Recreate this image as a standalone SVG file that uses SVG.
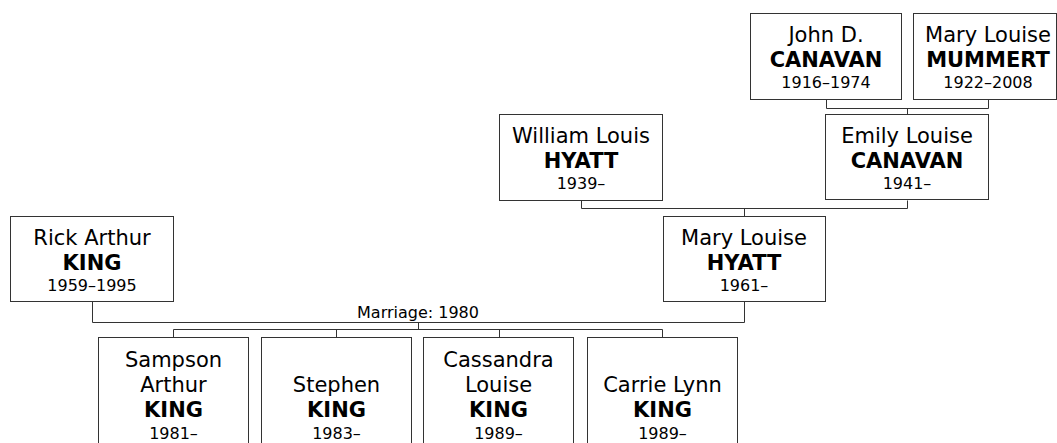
<svg xmlns="http://www.w3.org/2000/svg" width="1057" height="443" viewBox="0 0 1057 443">
<style>
.box{fill:#fff;stroke:#333;stroke-width:1}
.ln{fill:none;stroke:#333;stroke-width:1}
text{font-family:"DejaVu Sans",Verdana,sans-serif;fill:#000;text-anchor:middle}
.n{font-size:21px}
.b{font-size:21px;font-weight:bold}
.d{font-size:16px}
.m{font-size:16px}
</style>
<rect width="1057" height="443" fill="#fff"/>
<g id="connectors">
<path class="ln" d="M826.5 99.5V108.5H988.5V99.5M907.5 108.5V114.5"/>
<path class="ln" d="M581.5 200.5V208.5H907.5V200.5M744.5 208.5V216.5"/>
<path class="ln" d="M92.5 301.5V322.5H744.5V301.5M418.5 322.5V329.5"/>
<path class="ln" d="M173.5 337.5V329.5H662.5V337.5M336.5 329.5V337.5M499.5 329.5V337.5"/>
<text class="m" x="418" y="318">Marriage: 1980</text>
</g>
<g id="john">
<rect class="box" x="750.5" y="13.5" width="151" height="86"/>
<text class="n" x="826" y="42">John D.</text>
<text class="b" x="826" y="67">CANAVAN</text>
<text class="d" x="826" y="88">1916–1974</text>
</g>
<g id="mummert">
<rect class="box" x="913.5" y="13.5" width="143" height="86"/>
<text class="n" x="988" y="42">Mary Louise</text>
<text class="b" x="988" y="67">MUMMERT</text>
<text class="d" x="988" y="88">1922–2008</text>
</g>
<g id="william">
<rect class="box" x="499.5" y="114.5" width="163" height="86"/>
<text class="n" x="581" y="143">William Louis</text>
<text class="b" x="581" y="168">HYATT</text>
<text class="d" x="581" y="189">1939–</text>
</g>
<g id="emily">
<rect class="box" x="825.5" y="114.5" width="163" height="85"/>
<text class="n" x="907" y="143">Emily Louise</text>
<text class="b" x="907" y="168">CANAVAN</text>
<text class="d" x="907" y="189">1941–</text>
</g>
<g id="rick">
<rect class="box" x="10.5" y="216.5" width="163" height="85"/>
<text class="n" x="92" y="245">Rick Arthur</text>
<text class="b" x="92" y="270">KING</text>
<text class="d" x="92" y="291">1959–1995</text>
</g>
<g id="maryhyatt">
<rect class="box" x="663.5" y="216.5" width="162" height="85"/>
<text class="n" x="744" y="245">Mary Louise</text>
<text class="b" x="744" y="270">HYATT</text>
<text class="d" x="744" y="291">1961–</text>
</g>
<g id="sampson">
<rect class="box" x="98.5" y="337.5" width="150" height="120"/>
<text class="n" x="173.5" y="367">Sampson</text>
<text class="n" x="173.5" y="392">Arthur</text>
<text class="b" x="173.5" y="417">KING</text>
<text class="d" x="173.5" y="439">1981–</text>
</g>
<g id="stephen">
<rect class="box" x="261.5" y="337.5" width="150" height="120"/>
<text class="n" x="336.5" y="392">Stephen</text>
<text class="b" x="336.5" y="417">KING</text>
<text class="d" x="336.5" y="439">1983–</text>
</g>
<g id="cassandra">
<rect class="box" x="423.5" y="337.5" width="150" height="120"/>
<text class="n" x="498.5" y="367">Cassandra</text>
<text class="n" x="498.5" y="392">Louise</text>
<text class="b" x="498.5" y="417">KING</text>
<text class="d" x="498.5" y="439">1989–</text>
</g>
<g id="carrie">
<rect class="box" x="587.5" y="337.5" width="150" height="120"/>
<text class="n" x="662.5" y="392">Carrie Lynn</text>
<text class="b" x="662.5" y="417">KING</text>
<text class="d" x="662.5" y="439">1989–</text>
</g>
</svg>
